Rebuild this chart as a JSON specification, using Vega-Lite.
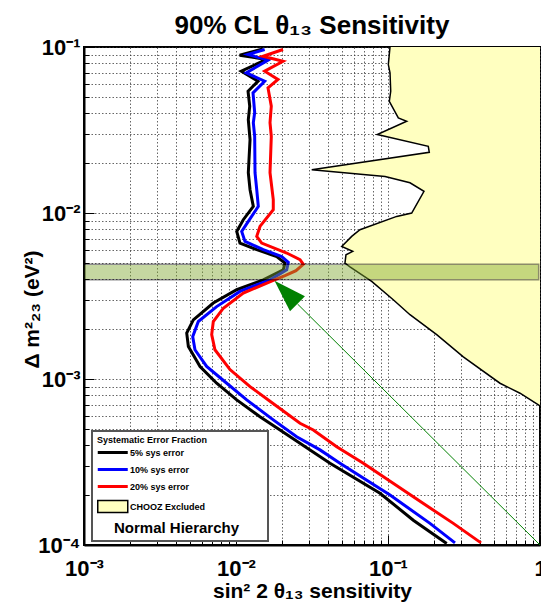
{
  "$schema": "https://vega.github.io/schema/vega-lite/v6.json",
  "width": 456,
  "height": 498,
  "autosize": {"type": "none"},
  "padding": {"left": 84, "top": 47, "right": 1, "bottom": 59},
  "background": "white",
  "title": {
    "text": "90% CL θ₁₃ Sensitivity",
    "font": "Liberation Sans",
    "fontSize": 26,
    "fontWeight": "bold",
    "color": "black",
    "anchor": "middle",
    "frame": "group",
    "baseline": "alphabetic",
    "offset": 14,
    "dy": 38
  },
  "config": {
    "font": "Liberation Sans",
    "view": {"stroke": "black", "strokeWidth": 2},
    "axis": {
      "domainColor": "black",
      "domainWidth": 2,
      "grid": true,
      "gridColor": "#333333",
      "gridDash": [1.5, 2],
      "gridWidth": 1,
      "gridOpacity": 0.75,
      "tickColor": "black",
      "tickWidth": 1,
      "labelFont": "Liberation Sans",
      "labelFontWeight": "bold",
      "labelFontSize": 22,
      "labelColor": "black",
      "labelOverlap": false,
      "labelFlush": false,
      "labelBound": false,
      "titleFont": "Liberation Sans",
      "titleFontWeight": "bold",
      "titleColor": "black",
      "titleFontSize": 21,
      "zindex": 1
    }
  },
  "datasets": {
    "curves": [
      {"series": "5% sys error", "s": 0.0150, "m": 0.0975},
      {"series": "5% sys error", "s": 0.01057, "m": 0.0892},
      {"series": "5% sys error", "s": 0.01582, "m": 0.0841},
      {"series": "5% sys error", "s": 0.01083, "m": 0.0715},
      {"series": "5% sys error", "s": 0.01395, "m": 0.0622},
      {"series": "5% sys error", "s": 0.0120, "m": 0.0541},
      {"series": "5% sys error", "s": 0.01231, "m": 0.0440},
      {"series": "5% sys error", "s": 0.01205, "m": 0.0365},
      {"series": "5% sys error", "s": 0.01237, "m": 0.0277},
      {"series": "5% sys error", "s": 0.01205, "m": 0.0175},
      {"series": "5% sys error", "s": 0.01237, "m": 0.01382},
      {"series": "5% sys error", "s": 0.0130, "m": 0.01096},
      {"series": "5% sys error", "s": 0.01117, "m": 0.00911},
      {"series": "5% sys error", "s": 0.01011, "m": 0.00774},
      {"series": "5% sys error", "s": 0.01062, "m": 0.00659},
      {"series": "5% sys error", "s": 0.01369, "m": 0.00601},
      {"series": "5% sys error", "s": 0.01853, "m": 0.00547},
      {"series": "5% sys error", "s": 0.02101, "m": 0.00499},
      {"series": "5% sys error", "s": 0.02047, "m": 0.00455},
      {"series": "5% sys error", "s": 0.01512, "m": 0.00396},
      {"series": "5% sys error", "s": 0.01011, "m": 0.00345},
      {"series": "5% sys error", "s": 0.00709, "m": 0.00287},
      {"series": "5% sys error", "s": 0.00524, "m": 0.00227},
      {"series": "5% sys error", "s": 0.00474, "m": 0.00189},
      {"series": "5% sys error", "s": 0.00486, "m": 0.00157},
      {"series": "5% sys error", "s": 0.0058, "m": 0.00119},
      {"series": "5% sys error", "s": 0.00746, "m": 0.000943},
      {"series": "5% sys error", "s": 0.01011, "m": 0.000748},
      {"series": "5% sys error", "s": 0.01438, "m": 0.000593},
      {"series": "5% sys error", "s": 0.01948, "m": 0.000493},
      {"series": "5% sys error", "s": 0.04153, "m": 0.000311},
      {"series": "5% sys error", "s": 0.08857, "m": 0.000205},
      {"series": "5% sys error", "s": 0.1467, "m": 0.000141},
      {"series": "5% sys error", "s": 0.2433, "m": 0.000102},

      {"series": "10% sys error", "s": 0.01544, "m": 0.0966},
      {"series": "10% sys error", "s": 0.0120, "m": 0.0901},
      {"series": "10% sys error", "s": 0.01624, "m": 0.0833},
      {"series": "10% sys error", "s": 0.01169, "m": 0.0699},
      {"series": "10% sys error", "s": 0.01544, "m": 0.0622},
      {"series": "10% sys error", "s": 0.01294, "m": 0.0529},
      {"series": "10% sys error", "s": 0.01327, "m": 0.0403},
      {"series": "10% sys error", "s": 0.0130, "m": 0.0350},
      {"series": "10% sys error", "s": 0.01327, "m": 0.0290},
      {"series": "10% sys error", "s": 0.01334, "m": 0.0175},
      {"series": "10% sys error", "s": 0.01369, "m": 0.01382},
      {"series": "10% sys error", "s": 0.01402, "m": 0.01096},
      {"series": "10% sys error", "s": 0.01205, "m": 0.00890},
      {"series": "10% sys error", "s": 0.0109, "m": 0.00774},
      {"series": "10% sys error", "s": 0.01146, "m": 0.00674},
      {"series": "10% sys error", "s": 0.01512, "m": 0.00601},
      {"series": "10% sys error", "s": 0.01999, "m": 0.00547},
      {"series": "10% sys error", "s": 0.02208, "m": 0.00504},
      {"series": "10% sys error", "s": 0.02156, "m": 0.00455},
      {"series": "10% sys error", "s": 0.01674, "m": 0.00396},
      {"series": "10% sys error", "s": 0.01062, "m": 0.00337},
      {"series": "10% sys error", "s": 0.00746, "m": 0.00273},
      {"series": "10% sys error", "s": 0.00565, "m": 0.00222},
      {"series": "10% sys error", "s": 0.00519, "m": 0.00180},
      {"series": "10% sys error", "s": 0.00537, "m": 0.00150},
      {"series": "10% sys error", "s": 0.00641, "m": 0.00119},
      {"series": "10% sys error", "s": 0.00869, "m": 0.000943},
      {"series": "10% sys error", "s": 0.01176, "m": 0.000748},
      {"series": "10% sys error", "s": 0.01759, "m": 0.000567},
      {"series": "10% sys error", "s": 0.02507, "m": 0.000449},
      {"series": "10% sys error", "s": 0.0357, "m": 0.000374},
      {"series": "10% sys error", "s": 0.04831, "m": 0.000311},
      {"series": "10% sys error", "s": 0.1031, "m": 0.000200},
      {"series": "10% sys error", "s": 0.1889, "m": 0.000135},
      {"series": "10% sys error", "s": 0.2759, "m": 0.000103},

      {"series": "20% sys error", "s": 0.02038, "m": 0.0966},
      {"series": "20% sys error", "s": 0.01505, "m": 0.0880},
      {"series": "20% sys error", "s": 0.02038, "m": 0.0821},
      {"series": "20% sys error", "s": 0.01544, "m": 0.0715},
      {"series": "20% sys error", "s": 0.01889, "m": 0.0637},
      {"series": "20% sys error", "s": 0.01624, "m": 0.0567},
      {"series": "20% sys error", "s": 0.01707, "m": 0.0440},
      {"series": "20% sys error", "s": 0.01674, "m": 0.0350},
      {"series": "20% sys error", "s": 0.01707, "m": 0.0290},
      {"series": "20% sys error", "s": 0.01674, "m": 0.0175},
      {"series": "20% sys error", "s": 0.01759, "m": 0.01203},
      {"series": "20% sys error", "s": 0.01759, "m": 0.01047},
      {"series": "20% sys error", "s": 0.01438, "m": 0.00830},
      {"series": "20% sys error", "s": 0.01369, "m": 0.00723},
      {"series": "20% sys error", "s": 0.01476, "m": 0.00659},
      {"series": "20% sys error", "s": 0.02156, "m": 0.00574},
      {"series": "20% sys error", "s": 0.02637, "m": 0.00523},
      {"series": "20% sys error", "s": 0.02772, "m": 0.00491},
      {"series": "20% sys error", "s": 0.02481, "m": 0.00449},
      {"series": "20% sys error", "s": 0.02101, "m": 0.00419},
      {"series": "20% sys error", "s": 0.01759, "m": 0.00393},
      {"series": "20% sys error", "s": 0.01117, "m": 0.00329},
      {"series": "20% sys error", "s": 0.00825, "m": 0.00267},
      {"series": "20% sys error", "s": 0.00709, "m": 0.00222},
      {"series": "20% sys error", "s": 0.00692, "m": 0.00185},
      {"series": "20% sys error", "s": 0.00727, "m": 0.00150},
      {"series": "20% sys error", "s": 0.00913, "m": 0.00114},
      {"series": "20% sys error", "s": 0.01237, "m": 0.000900},
      {"series": "20% sys error", "s": 0.01631, "m": 0.000748},
      {"series": "20% sys error", "s": 0.02637, "m": 0.000541},
      {"series": "20% sys error", "s": 0.03226, "m": 0.000493},
      {"series": "20% sys error", "s": 0.04597, "m": 0.000391},
      {"series": "20% sys error", "s": 0.0688, "m": 0.000311},
      {"series": "20% sys error", "s": 0.1467, "m": 0.000195},
      {"series": "20% sys error", "s": 0.269, "m": 0.000135},
      {"series": "20% sys error", "s": 0.409, "m": 0.000103}
    ],
    "chooz": [
      {"s": 0.1031, "m": 0.1},
      {"s": 0.1005, "m": 0.0784},
      {"s": 0.1031, "m": 0.0699},
      {"s": 0.1042, "m": 0.0541},
      {"s": 0.1020, "m": 0.0471},
      {"s": 0.1169, "m": 0.0374},
      {"s": 0.1327, "m": 0.0357},
      {"s": 0.0850, "m": 0.0297},
      {"s": 0.1841, "m": 0.0252},
      {"s": 0.1869, "m": 0.0232},
      {"s": 0.0315, "m": 0.0182},
      {"s": 0.0956, "m": 0.0166},
      {"s": 0.1395, "m": 0.0152},
      {"s": 0.1725, "m": 0.0135},
      {"s": 0.1432, "m": 0.0100},
      {"s": 0.1141, "m": 0.00954},
      {"s": 0.0654, "m": 0.00793},
      {"s": 0.0577, "m": 0.00723},
      {"s": 0.0496, "m": 0.00629},
      {"s": 0.0586, "m": 0.00587},
      {"s": 0.0529, "m": 0.00560},
      {"s": 0.0521, "m": 0.00499},
      {"s": 0.0562, "m": 0.00474},
      {"s": 0.0781, "m": 0.00387},
      {"s": 0.1083, "m": 0.00300},
      {"s": 0.1395, "m": 0.00244},
      {"s": 0.2091, "m": 0.00185},
      {"s": 0.3129, "m": 0.00136},
      {"s": 0.5454, "m": 0.000943},
      {"s": 0.7387, "m": 0.000821},
      {"s": 1.0, "m": 0.000689}
    ],
    "band": [
      {"s": 0.001, "s2": 0.98, "m": 0.00396, "m2": 0.00492}
    ],
    "arrow": [
      {"s": 1.0, "m": 0.0001, "s2": 0.0254, "m2": 0.00283, "hs": 0.02133, "hm": 0.00333}
    ]
  },
  "layer": [
    {
      "data": {"name": "chooz"},
      "mark": {"type": "area", "orient": "horizontal", "color": "#ffffc0", "opacity": 1},
      "encoding": {
        "y": {
          "field": "m", "type": "quantitative",
          "scale": {"type": "log", "domain": [0.0001, 0.1], "nice": false},
          "axis": {
            "title": "Δ m²₂₃ (eV²)",
            "values": [0.0001, 0.0002, 0.0003, 0.0004, 0.0005, 0.0006, 0.0007, 0.0008, 0.0009, 0.001, 0.002, 0.003, 0.004, 0.005, 0.006, 0.007, 0.008, 0.009, 0.01, 0.02, 0.03, 0.04, 0.05, 0.06, 0.07, 0.08, 0.09, 0.1],
            "labelExpr": "datum.value === 0.0001 ? '10⁻⁴' : datum.value === 0.001 ? '10⁻³' : datum.value === 0.01 ? '10⁻²' : datum.value === 0.1 ? '10⁻¹' : ''",
            "tickSize": {"condition": {"test": "datum.value === 0.0001 || datum.value === 0.001 || datum.value === 0.01 || datum.value === 0.1", "value": -10}, "value": -5},
            "labelPadding": 14,
            "labelBaseline": "middle",
            "titleX": -46,
            "titleY": 262,
            "titleAlign": "center",
            "titleBaseline": "alphabetic",
            "titleAngle": -90
          }
        },
        "x": {
          "field": "s", "type": "quantitative",
          "scale": {"type": "log", "domain": [0.001, 1], "nice": false},
          "axis": {
            "title": "sin² 2 θ₁₃ sensitivity",
            "values": [0.001, 0.002, 0.003, 0.004, 0.005, 0.006, 0.007, 0.008, 0.009, 0.01, 0.02, 0.03, 0.04, 0.05, 0.06, 0.07, 0.08, 0.09, 0.1, 0.2, 0.3, 0.4, 0.5, 0.6, 0.7, 0.8, 0.9, 1],
            "labelExpr": "datum.value === 0.001 ? '10⁻³' : datum.value === 0.01 ? '10⁻²' : datum.value === 0.1 ? '10⁻¹' : datum.value === 1 ? '1' : ''",
            "tickSize": {"condition": {"test": "datum.value === 0.001 || datum.value === 0.01 || datum.value === 0.1 || datum.value === 1", "value": -10}, "value": -5},
            "labelPadding": 23,
            "titleX": 228,
            "titleY": 52,
            "titleAlign": "center",
            "titleBaseline": "alphabetic"
          }
        },
        "x2": {"datum": 1}
      }
    },
    {
      "data": {"name": "chooz"},
      "mark": {"type": "line", "color": "black", "strokeWidth": 1.5},
      "encoding": {
        "y": {"field": "m", "type": "quantitative", "scale": {"type": "log", "domain": [0.0001, 0.1], "nice": false}},
        "x": {"field": "s", "type": "quantitative", "scale": {"type": "log", "domain": [0.001, 1], "nice": false}},
        "order": {"field": "m", "sort": "descending"}
      }
    },
    {
      "data": {"name": "curves"},
      "mark": {"type": "line", "strokeWidth": 3, "interpolate": "linear"},
      "encoding": {
        "y": {"field": "m", "type": "quantitative", "scale": {"type": "log", "domain": [0.0001, 0.1], "nice": false}},
        "x": {"field": "s", "type": "quantitative", "scale": {"type": "log", "domain": [0.001, 1], "nice": false}},
        "order": {"field": "m", "sort": "descending"},
        "stroke": {
          "field": "series",
          "type": "nominal",
          "scale": {
            "domain": ["5% sys error", "10% sys error", "20% sys error", "CHOOZ Excluded", "Normal Hierarchy"],
            "range": ["#000000", "#0000ff", "#ff0000", "#000000", "#ffffff"]
          },
          "legend": {
            "orient": "none",
            "legendX": 8,
            "legendY": 384,
            "zindex": 2,
            "title": "Systematic Error Fraction",
            "titleFont": "Liberation Sans",
            "titleFontSize": 9,
            "titleFontWeight": "bold",
            "titleColor": "black",
            "titlePadding": 3,
            "labelFont": "Liberation Sans",
            "labelFontSize": 9,
            "labelFontWeight": "bold",
            "labelColor": "black",
            "symbolType": "M-0.5,0L3.5,0",
            "symbolSize": 225,
            "symbolStrokeWidth": 3,
            "labelOffset": 24,
            "rowPadding": 4,
            "padding": 5,
            "fillColor": "white",
            "strokeColor": "#555555",
            "encode": {
              "legend": {"update": {"strokeWidth": {"value": 2}}},
              "symbols": {
                "update": {
                  "shape": {"signal": "datum.value === 'CHOOZ Excluded' ? 'M-0.5,-0.8L3.5,-0.8L3.5,0.8L-0.5,0.8Z' : datum.value === 'Normal Hierarchy' ? 'M-0.5,0L21.5,0' : 'M-0.5,0L3.5,0'"},
                  "fill": {"signal": "datum.value === 'CHOOZ Excluded' ? '#ffffc0' : 'transparent'"},
                  "strokeWidth": {"signal": "datum.value === 'CHOOZ Excluded' ? 1.5 : 3"},
                  "opacity": {"signal": "datum.value === 'Normal Hierarchy' ? 0 : 1"}
                }
              },
              "labels": {
                "update": {
                  "fontSize": {"signal": "datum.value === 'Normal Hierarchy' ? 15 : 9"},
                  "dx": {"signal": "datum.value === 'Normal Hierarchy' ? -16 : 0"}
                }
              }
            }
          }
        }
      }
    },
    {
      "data": {"name": "band"},
      "mark": {"type": "rect", "color": "#7fa830", "opacity": 0.45, "stroke": "black", "strokeWidth": 1.5, "strokeOpacity": 1},
      "encoding": {
        "x": {"field": "s", "type": "quantitative", "scale": {"type": "log", "domain": [0.001, 1], "nice": false}},
        "x2": {"field": "s2"},
        "y": {"field": "m", "type": "quantitative", "scale": {"type": "log", "domain": [0.0001, 0.1], "nice": false}},
        "y2": {"field": "m2"}
      }
    },
    {
      "data": {"name": "arrow"},
      "mark": {"type": "rule", "color": "#008000", "strokeWidth": 1},
      "encoding": {
        "x": {"field": "s", "type": "quantitative", "scale": {"type": "log", "domain": [0.001, 1], "nice": false}},
        "x2": {"field": "s2"},
        "y": {"field": "m", "type": "quantitative", "scale": {"type": "log", "domain": [0.0001, 0.1], "nice": false}},
        "y2": {"field": "m2"}
      }
    },
    {
      "data": {"name": "arrow"},
      "mark": {"type": "point", "shape": "M-0.65,1L0.65,1L0,-1Z", "filled": true, "color": "#008000", "opacity": 1, "size": 1056, "angle": -45, "strokeWidth": 0},
      "encoding": {
        "x": {"field": "hs", "type": "quantitative", "scale": {"type": "log", "domain": [0.001, 1], "nice": false}},
        "y": {"field": "hm", "type": "quantitative", "scale": {"type": "log", "domain": [0.0001, 0.1], "nice": false}}
      }
    }
  ]
}
